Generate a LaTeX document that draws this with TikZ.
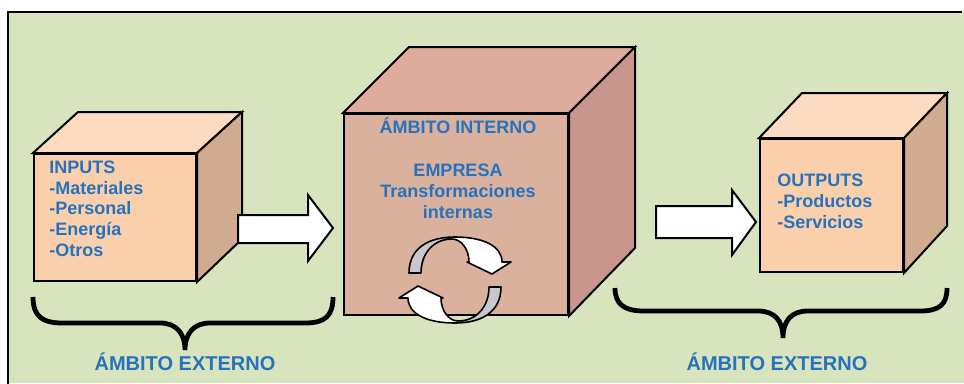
\documentclass[tikz,border=0pt]{standalone}
\usepackage{fontspec}
\setmainfont{Liberation Sans}
\usetikzlibrary{calc}
\definecolor{bggreen}{RGB}{216,228,189}
\definecolor{boxfront}{RGB}{250,208,172}
\definecolor{boxtop}{RGB}{252,219,192}
\definecolor{boxside}{RGB}{209,171,143}
\definecolor{midfront}{RGB}{218,177,157}
\definecolor{midtop}{RGB}{222,172,157}
\definecolor{midside}{RGB}{200,150,140}
\definecolor{txtblue}{RGB}{38,114,190}
\definecolor{cycgray}{RGB}{200,200,204}
\begin{document}
\begin{tikzpicture}[x=0.75pt,y=-0.75pt,
  edge/.style={draw=black,line width=1.5pt},
  txt/.style={text=txtblue,font=\bfseries\fontsize{13.5pt}{15.6pt}\selectfont,inner sep=0pt},
  lbl/.style={text=txtblue,font=\bfseries\fontsize{15pt}{18pt}\selectfont,inner sep=0pt},
  brace/.style={draw=black,line width=3.6pt},
  bigarrow/.style={draw=black,fill=white,line width=1.5pt},
  cyc/.style={draw=black,line width=1.2pt,line join=round},
  halfturn/.pic={
    \path[fill=white] (-46,-9) .. controls (-46,-35) and (-25,-45) .. (0,-45)
      .. controls (28,-45) and (47,-36) .. (47,-20) -- (56,-20) -- (37,-8) -- (12,-20) -- (14,-20)
      .. controls (14,-33) and (6,-43) .. (-3,-43)
      .. controls (-22,-43) and (-34,-28) .. (-34,-9) -- cycle;
    \fill[cycgray] (-46,-9) .. controls (-46,-35) and (-25,-45) .. (0,-45)
      -- (-3,-43) .. controls (-22,-43) and (-34,-28) .. (-34,-9) -- cycle;
    \draw[cyc] (-46,-9) .. controls (-46,-35) and (-25,-45) .. (0,-45)
      .. controls (28,-45) and (47,-36) .. (47,-20) -- (56,-20) -- (37,-8) -- (12,-20) -- (14,-20)
      .. controls (14,-33) and (6,-43) .. (-3,-43)
      .. controls (-22,-43) and (-34,-28) .. (-34,-9) -- cycle;
  }]
\useasboundingbox (0,0) rectangle (964,383);
\fill[bggreen] (8,12) rectangle (964,383);
\draw[line width=1.5pt] (8,390) -- (8,12) -- (962,12);

% left cube
\node[edge,fill=boxfront,anchor=north west,inner sep=0pt,minimum width=121.5pt,minimum height=95.25pt] (in) at (33,153) {};
\filldraw[edge,fill=boxtop] (in.north west) -- ++(45,-41) -- ($(in.north east)+(45,-41)$) -- (in.north east) -- cycle;
\filldraw[edge,fill=boxside] (in.north east) -- ++(45,-41) -- ++(0,127) -- (in.south east) -- cycle;
\node[txt,align=left,anchor=north west] (intxt) at (49,160.5) {INPUTS\\-Materiales\\-Personal\\-Energía\\-Otros};

% middle cube
\node[edge,fill=midfront,anchor=north west,inner sep=0pt,minimum width=168pt,minimum height=150.75pt] (mid) at (343,113) {};
\filldraw[edge,fill=midtop] (mid.north west) -- ++(66,-66) -- ($(mid.north east)+(66,-66)$) -- (mid.north east) -- cycle;
\filldraw[edge,fill=midside] (mid.north east) -- ++(66,-66) -- ++(0,201) -- (mid.south east) -- cycle;
\node[txt,anchor=base] (inttitle) at (458,133) {ÁMBITO INTERNO};
\node[txt,align=center,anchor=north] (emp) at (458,164) {EMPRESA\\Transformaciones\\internas};

% right cube
\node[edge,fill=boxfront,anchor=north west,inner sep=0pt,minimum width=107.25pt,minimum height=99.75pt] (out) at (759,138) {};
\filldraw[edge,fill=boxtop] (out.north west) -- ++(43,-45) -- ($(out.north east)+(43,-45)$) -- (out.north east) -- cycle;
\filldraw[edge,fill=boxside] (out.north east) -- ++(43,-45) -- ++(0,133) -- (out.south east) -- cycle;
\node[txt,align=left,anchor=north west] (outtxt) at (777,174) {OUTPUTS\\-Productos\\-Servicios};

% big arrows
\filldraw[bigarrow] (238,215) -- (308,215) -- (308,195) -- (333,228) -- (308,261) -- (308,243) -- (238,243) -- cycle;
\filldraw[bigarrow] (656,206) -- (732,206) -- (732,190) -- (756,222) -- (732,255) -- (732,238) -- (656,238) -- cycle;

% cycle arrows
\pic (cycA) at (455,282) {halfturn};
\pic[rotate=180] (cycB) at (455,278) {halfturn};

% braces
\draw[brace] (33,297) .. controls (33,316) and (42,323) .. (62,323) -- (160,323)
  .. controls (176,323) and (185,333) .. (185,350)
  .. controls (185,333) and (194,323) .. (210,323) -- (305,323)
  .. controls (325,323) and (333,316) .. (333,297);
\draw[brace] (615,288) .. controls (615,304) and (624,311) .. (644,311) -- (758,311)
  .. controls (775,311) and (783,321) .. (783,338)
  .. controls (783,321) and (791,311) .. (808,311) -- (920,311)
  .. controls (940,311) and (947,304) .. (947,288);

\node[lbl,anchor=base] (extL) at (185,370) {ÁMBITO EXTERNO};
\node[lbl,anchor=base] (extR) at (777,370) {ÁMBITO EXTERNO};
\end{tikzpicture}
\end{document}
